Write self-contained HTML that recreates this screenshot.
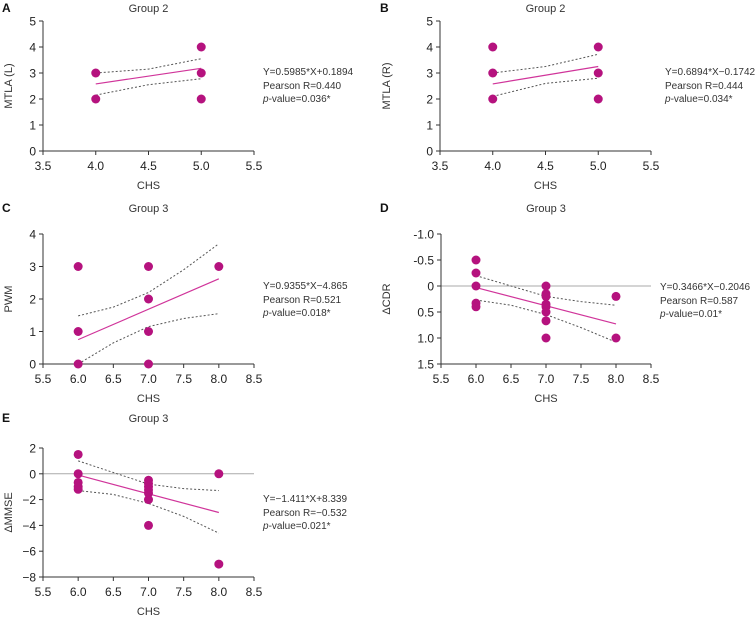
<!DOCTYPE html>
<html><head><meta charset="utf-8"><style>
html,body{margin:0;padding:0;background:#fff;}
svg{display:block;font-family:"Liberation Sans",Arial,sans-serif;}
</style></head><body>
<svg id="fig" width="756" height="618" viewBox="0 0 756 618"></svg>
<script>
// ---- data ----
const panelLetters = ["A","B","C","D","E"];
const panelTitles = ["Group 2","Group 2","Group 3","Group 3","Group 3"];
const yLabels = ["MTLA (L)","MTLA (R)","PWM","\u0394CDR","\u0394MMSE"];
const xTicksAB = [3.5,4.0,4.5,5.0,5.5];
const xTicksCDE = [5.5,6.0,6.5,7.0,7.5,8.0,8.5];
const yTicksA = [0,1,2,3,4,5];
const yTicksB = [0,1,2,3,4,5];
const yTicksC = [0,1,2,3,4];
const yTicksD = [-1.0,-0.5,0,0.5,1.0,1.5];
const yTicksE = [2,0,-2,-4,-6,-8];
const yTickLabelsD = ["-1.0","-0.5","0","0.5","1.0","1.5"];
const yTickLabelsE = ["2","0","\u22122","\u22124","\u22126","\u22128"];

const ptsAx = [4,4,5,5,5];
const ptsAy = [3,2,4,3,2];
const ptsBx = [4,4,4,5,5,5];
const ptsBy = [4,3,2,4,3,2];
const ptsCx = [6,6,6,7,7,7,7,8];
const ptsCy = [3,1,0,3,2,1,0,3];
const ptsDx = [6,6,6,6,6,7,7,7,7,7,7,7,7,8,8];
const ptsDy = [-0.5,-0.25,0,0.33,0.4,0,0.15,0.2,0.35,0.4,0.5,0.67,1.0,0.2,1.0];
const ptsEx = [6,6,6,6,6,7,7,7,7,7,7,7,8,8];
const ptsEy = [1.5,0,-0.67,-1,-1.2,-0.5,-0.75,-1,-1.25,-1.5,-2,-4,0,-7];

const ciXAB = [4,4.5,5];
const ciXCDE = [6,6.5,7,7.5,8];
const fitA = [2.58,2.88,3.18];
const upA = [3.0,3.15,3.55];
const loA = [2.15,2.55,2.78];
const fitB = [2.58,2.92,3.25];
const upB = [3.0,3.25,3.72];
const loB = [2.1,2.6,2.8];
const fitC = [0.75,1.22,1.68,2.15,2.62];
const upC = [1.48,1.75,2.2,2.9,3.7];
const loC = [0.0,0.65,1.15,1.4,1.55];
const fitD = [0.03,0.2,0.38,0.55,0.73];
const upD = [-0.2,0.0,0.2,0.3,0.37];
const loD = [0.27,0.37,0.55,0.8,1.08];
const fitE = [-0.1,-0.82,-1.55,-2.28,-3.0];
const upE = [1.0,0.1,-0.8,-1.15,-1.3];
const loE = [-1.3,-1.6,-2.3,-3.3,-4.6];

const statsEq = ["Y=0.5985*X+0.1894","Y=0.6894*X\u22120.1742","Y=0.9355*X\u22124.865","Y=0.3466*X\u22120.2046","Y=\u22121.411*X+8.339"];
const statsR = ["Pearson R=0.440","Pearson R=0.444","Pearson R=0.521","Pearson R=0.587","Pearson R=\u22120.532"];
const statsP = ["=0.036*","=0.034*","=0.018*","=0.01*","=0.021*"];

// ---- drawing ----
const NS="http://www.w3.org/2000/svg";
const svg=document.getElementById('fig');
function mk(tag,attrs,parent,text){const e=document.createElementNS(NS,tag);for(const k in attrs)e.setAttribute(k,attrs[k]);if(text!==undefined)e.textContent=text;(parent||svg).appendChild(e);return e;}

const layouts=[
 {ox:0,oy:0,x0:43,x1:254,yT:21,yB:151,xmin:3.5,xmax:5.5,ymin:0,ymax:5,rev:false,tx:263,eqY:71},
 {ox:378,oy:0,x0:440,x1:651,yT:21,yB:151,xmin:3.5,xmax:5.5,ymin:0,ymax:5,rev:false,tx:665,eqY:71},
 {ox:0,oy:200,x0:43,x1:254,yT:234,yB:364,xmin:5.5,xmax:8.5,ymin:0,ymax:4,rev:false,tx:263,eqY:285},
 {ox:378,oy:200,x0:441,x1:651,yT:234,yB:364,xmin:5.5,xmax:8.5,ymin:-1,ymax:1.5,rev:true,tx:660,eqY:286},
 {ox:0,oy:410,x0:43,x1:254,yT:448,yB:577,xmin:5.5,xmax:8.5,ymin:-8,ymax:2,rev:false,tx:263,eqY:498}
];
const panelPx=[ptsAx,ptsBx,ptsCx,ptsDx,ptsEx];
const panelPy=[ptsAy,ptsBy,ptsCy,ptsDy,ptsEy];
const panelXT=[xTicksAB,xTicksAB,xTicksCDE,xTicksCDE,xTicksCDE];
const panelYT=[yTicksA,yTicksB,yTicksC,yTicksD,yTicksE];
const panelYTL=[null,null,null,yTickLabelsD,yTickLabelsE];
const panelCiX=[ciXAB,ciXAB,ciXCDE,ciXCDE,ciXCDE];
const panelFit=[fitA,fitB,fitC,fitD,fitE];
const panelUp=[upA,upB,upC,upD,upE];
const panelLo=[loA,loB,loC,loD,loE];

layouts.forEach((L,i)=>{
  const g=mk('g',{});
  
  
  const sx=v=>L.x0+(v-L.xmin)/(L.xmax-L.xmin)*(L.x1-L.x0);
  const sy=v=>L.rev? L.yT+(v-L.ymin)/(L.ymax-L.ymin)*(L.yB-L.yT) : L.yB-(v-L.ymin)/(L.ymax-L.ymin)*(L.yB-L.yT);
  const pl=mk('text',{x:L.ox+2,y:L.oy+12,'font-size':12,'font-weight':'bold',fill:'#111'},g,panelLetters[i]);
  
  
  const tt=mk('text',{x:(L.x0+L.x1)/2,y:L.oy+12,'font-size':11,'text-anchor':'middle',fill:'#333'},g,panelTitles[i]);
  
  
  // zero reference line
  if(i>=3){const zl=mk('line',{x1:L.x0,x2:L.x1,y1:sy(0),y2:sy(0),stroke:'#aaa','stroke-width':1},g);
    }
  // axes
  const ax=mk('path',{d:`M${L.x0},${L.yT}V${L.yB}H${L.x1}`,stroke:'#333',fill:'none','stroke-width':1},g);
  
  
  panelXT[i].forEach(t=>{
    mk('line',{x1:sx(t),x2:sx(t),y1:L.yB,y2:L.yB+4,stroke:'#333'},g);
    const lt=mk('text',{x:sx(t),y:L.yB+19,'font-size':12,'text-anchor':'middle',fill:'#222'},g,t.toFixed(1));
    
    
  });
  panelYT[i].forEach((t,k)=>{
    mk('line',{x1:L.x0-4,x2:L.x0,y1:sy(t),y2:sy(t),stroke:'#333'},g);
    const lab=panelYTL[i]?panelYTL[i][k]:String(t);
    const lt=mk('text',{x:L.x0-7,y:sy(t)+4.5,'font-size':12,'text-anchor':'end',fill:'#222'},g,lab);
    
    
  });
  const xt=mk('text',{x:(L.x0+L.x1)/2,y:L.yB+38,'font-size':11,'text-anchor':'middle',fill:'#333'},g,'CHS');
  
  
  const yx=L.ox+12, yy=(L.yT+L.yB)/2;
  const yt=mk('text',{x:yx,y:yy,'font-size':11,'text-anchor':'middle',fill:'#333',transform:`rotate(-90 ${yx} ${yy})`},g,yLabels[i]);
  
  
  // CI bands
  const cx=panelCiX[i];
  [panelUp[i],panelLo[i]].forEach((arr,j)=>{
    let d='';
    const p=cx.map((x,k)=>[sx(x),sy(arr[k])]);
    d='M'+p[0][0]+','+p[0][1];
    for(let k=1;k<p.length;k++){
      const a=p[k-1],b=p[k];const mx=(a[0]+b[0])/2;
      d+=` Q${a[0]+ (b[0]-a[0])*0.5},${(a[1]+b[1])/2} ${b[0]},${b[1]}`;
    }
    const ci=mk('path',{d:d,fill:'none',stroke:'#555','stroke-width':1,'stroke-dasharray':'2,2'},g);
    
    
  });
  const f=panelFit[i];
  const fl=mk('line',{x1:sx(cx[0]),y1:sy(f[0]),x2:sx(cx[cx.length-1]),y2:sy(f[f.length-1]),stroke:'#d0349a','stroke-width':1.2},g);
  
  
  panelPx[i].forEach((x,k)=>{
    const c=mk('circle',{cx:sx(x),cy:sy(panelPy[i][k]),r:4.5,fill:'#b5127e'},g);
    
    
  });
  const s1=mk('text',{x:L.tx,y:L.eqY+4,'font-size':10,fill:'#333'},g,statsEq[i]);
  
  
  const s2=mk('text',{x:L.tx,y:L.eqY+18,'font-size':10,fill:'#333'},g,statsR[i]);
  
  
  const s3=mk('text',{x:L.tx,y:L.eqY+31,'font-size':10,fill:'#333'},g);
  
  
  mk('tspan',{'font-style':'italic'},s3,'p');
  mk('tspan',{},s3,'-value'+statsP[i]);
});
</script>
</body></html>
